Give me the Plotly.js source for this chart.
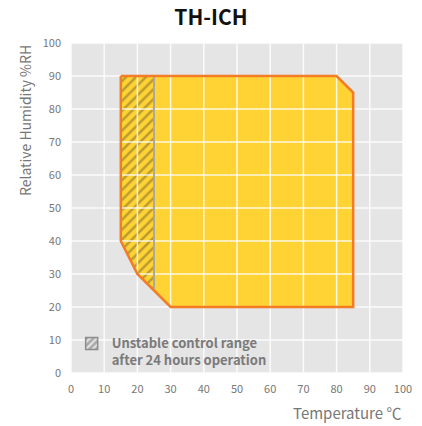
<!DOCTYPE html>
<html>
<head>
<meta charset="utf-8">
<script src="https://cdn.plot.ly/plotly-3.0.1.min.js"></script>
<style>html,body{margin:0;padding:0;background:#fff;}#chart{width:422px;height:426px;}</style>
</head>
<body>
<div id="chart"></div>
<script>
// Operating envelope (Temperature °C vs Relative Humidity %RH)
const envelopeT  = [15, 80, 85, 85, 30, 20, 15, 15];
const envelopeRH = [90, 90, 85, 20, 20, 30, 40, 90];
// Unstable control range after 24 hours operation
const unstableT  = [15, 25, 25, 20, 15, 15];
const unstableRH = [90, 90, 25, 30, 40, 90];
// Boundary of the unstable range
const boundaryT  = [25, 25];
const boundaryRH = [90, 25];
// Axis ticks
const xTicks = [0, 10, 20, 30, 40, 50, 60, 70, 80, 90, 100];
const yTicks = [0, 10, 20, 30, 40, 50, 60, 70, 80, 90, 100];
const axisRange = [0, 100];
const legendLabel = "Unstable control range<br>after 24 hours operation";

const FONT = "Noto Sans CJK KR, Noto Sans, sans-serif";
const YELLOW = "#ffd333";
const ORANGE = "#f47c25";

// grid drawn over the fills (from the tick arrays)
const gridX = [], gridY = [];
xTicks.forEach(v => { gridX.push(v, v, null); gridY.push(axisRange[0], axisRange[1], null); });
yTicks.forEach(v => { gridX.push(axisRange[0], axisRange[1], null); gridY.push(v, v, null); });

const traces = [
  {x: envelopeT, y: envelopeRH, type: "scatter", mode: "lines", fill: "toself",
   fillcolor: YELLOW, line: {width: 0, color: YELLOW}, showlegend: false, hoverinfo: "skip"},
  {x: unstableT, y: unstableRH, type: "scatter", mode: "lines", fill: "toself",
   fillcolor: YELLOW, line: {width: 0, color: YELLOW},
   fillpattern: {shape: "/", bgcolor: YELLOW, fgcolor: "#b89a30", size: 7, solidity: 0.35},
   showlegend: false, hoverinfo: "skip"},
  {x: gridX, y: gridY, type: "scatter", mode: "lines", connectgaps: false,
   line: {width: 1.5, color: "rgba(255,255,255,0.85)"}, showlegend: false, hoverinfo: "skip", cliponaxis: true},
  {x: boundaryT, y: boundaryRH, type: "scatter", mode: "lines",
   line: {width: 2, color: "#a8a8a8"}, showlegend: false, hoverinfo: "skip"},
  {x: envelopeT, y: envelopeRH, type: "scatter", mode: "lines",
   line: {width: 2.5, color: ORANGE}, showlegend: false, hoverinfo: "skip"},
  {x: [null], y: [null], type: "bar", name: legendLabel, showlegend: true,
   marker: {color: "#a9a9a9", line: {color: "#8c8c8c", width: 1.5},
            pattern: {shape: "/", bgcolor: "#a9a9a9", fgcolor: "#e8e8e8", size: 6, solidity: 0.4}}}
];

const layout = {
  width: 422, height: 426,
  margin: {l: 71, r: 19, t: 43, b: 53},
  paper_bgcolor: "#ffffff",
  plot_bgcolor: "#e5e5e5",
  font: {family: FONT, color: "#777777", size: 11},
  title: {text: "<b>TH-ICH</b>", x: 0.5, xref: "container", xanchor: "center",
          y: 0.958, yref: "container", yanchor: "middle",
          font: {family: FONT, size: 21, color: "#111111"}},
  xaxis: {range: axisRange, tickvals: xTicks, showgrid: false, zeroline: false,
          showline: false, ticks: "", fixedrange: true,
          tickfont: {size: 11, color: "#777"}, ticklabelstandoff: 8},
  yaxis: {range: axisRange, tickvals: yTicks, showgrid: false, zeroline: false,
          showline: false, ticks: "", fixedrange: true,
          tickfont: {size: 11, color: "#777"}, ticklabelstandoff: 9},
  showlegend: true,
  legend: {x: 0.002, y: 0.135, xanchor: "left", yanchor: "top", bgcolor: "rgba(0,0,0,0)",
           valign: "top",
           font: {family: FONT, size: 13, color: "#7a7a7a", weight: "bold"},
           itemwidth: 30},
  annotations: [
    {text: "Temperature ℃", xref: "paper", yref: "paper", x: 1, y: -0.12,
     xanchor: "right", yanchor: "middle", showarrow: false,
     font: {family: FONT, size: 15, color: "#777"}},
    {text: "Relative Humidity %RH", xref: "paper", yref: "paper", x: -0.14, y: 1.0,
     xanchor: "center", yanchor: "top", textangle: -90, showarrow: false,
     font: {family: FONT, size: 14, color: "#777"}}
  ]
};

Plotly.newPlot("chart", traces, layout, {displayModeBar: false, staticPlot: true});
</script>
</body>
</html>
